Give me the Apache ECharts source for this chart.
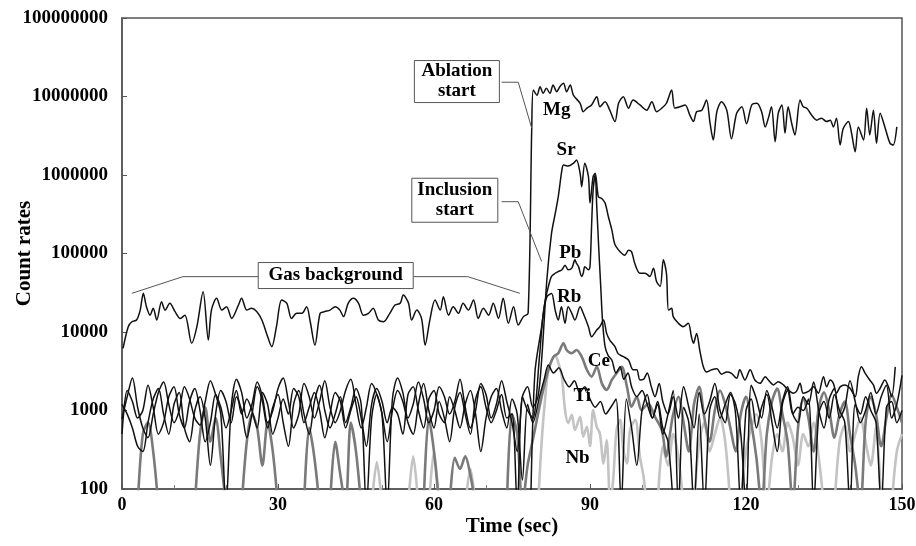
<!DOCTYPE html>
<html><head><meta charset="utf-8">
<script src="https://cdn.jsdelivr.net/npm/echarts@6/dist/echarts.min.js"></script>
<style>html,body{margin:0;padding:0;background:#fff}#c{width:916px;height:546px}</style>
</head><body><div id="c"></div>
<script>
// ---- data (time in s, count rates) ----
const xTicks = [0, 30, 60, 90, 120, 150];
const yTicks = [100, 1000, 10000, 100000, 1000000, 10000000, 100000000];

const mgBackground = [[0.2,6200],[1.2,11700],[1.9,13500],[2.8,14200],[3.5,19000],[4.1,31100],[4.7,21000],[5.4,16400],[6.0,20000],[6.7,14200],[7.6,24300],[8.3,19000],[9.2,23200],[10.2,18200],[11.2,14900],[12.1,16400],[13.4,7200],[14.4,11700],[15.6,32600],[16.6,7900],[17.2,19000],[18.2,26900],[19.2,19000],[20.1,21000],[21.1,14900],[22.4,22100],[23.0,26900],[24.0,19000],[24.9,20000],[25.9,18200],[26.9,14200],[27.8,9600],[28.8,6500],[29.7,11700],[30.7,25600],[31.7,23200],[32.6,14900],[33.6,17300],[34.6,17300],[35.5,21000],[36.2,13500],[37.1,6800],[38.1,17300],[39.0,18200],[40.0,19000],[41.0,21000],[41.9,19000],[42.6,15700],[43.5,23200],[44.5,26900],[45.5,23200],[46.4,16400],[47.4,17300],[48.3,20000],[49.3,14200],[50.3,13500],[51.5,17300],[52.5,22100],[53.5,23200],[54.1,29600],[55.1,23200],[55.7,14200],[56.7,19000],[57.6,14900],[58.3,6800],[59.2,14200],[60.2,25600],[61.2,19000],[61.8,28200],[62.8,16400],[63.7,21000],[64.7,17300],[65.6,23200],[66.6,19000],[67.6,25600],[68.5,14900],[69.5,20000],[70.5,16400],[71.4,23200],[72.4,14900],[73.3,26900],[74.3,12900],[75.3,21000],[76.2,12300],[77.2,15700],[78.1,17300]];
const mgSignal = [[78.8,4100000],[79.1,12100000],[79.8,10400000],[80.4,13300000],[81.0,11000000],[81.6,12700000],[82.3,11000000],[82.9,14000000],[83.6,11500000],[84.2,13300000],[84.9,14700000],[85.5,11500000],[86.2,14000000],[86.8,10400000],[88.1,8200000],[88.7,6400000],[89.4,7100000],[90.3,7800000],[91.3,9950000],[91.9,7400000],[92.9,8600000],[93.8,6700000],[94.8,4800000],[95.5,8200000],[96.4,9950000],[97.4,7100000],[98.3,9000000],[99.6,7800000],[100.9,6700000],[101.9,8600000],[102.8,6400000],[103.8,7100000],[104.7,8200000],[105.7,12100000],[106.3,7100000],[107.3,7400000],[108.3,7800000],[109.2,5800000],[109.9,4800000],[110.5,6400000],[111.5,6700000],[112.4,9000000],[113.1,4500000],[113.7,2800000],[114.4,6400000],[115.3,8600000],[116.3,6700000],[117.2,2900000],[118.2,6100000],[119.2,7400000],[120.1,4500000],[121.1,7800000],[122.1,8200000],[123.0,6400000],[123.7,4100000],[124.3,5300000],[124.9,7400000],[125.6,2660000],[126.2,6100000],[126.9,7800000],[127.5,3400000],[128.1,7400000],[128.8,4500000],[129.4,3240000],[130.4,9000000],[131.0,7400000],[131.7,7100000],[132.6,5800000],[133.6,5000000],[134.5,5300000],[135.5,4800000],[136.2,5000000],[136.8,4100000],[137.4,5300000],[138.1,2410000],[138.7,3900000],[139.7,4800000],[140.3,3400000],[141.0,1980000],[141.6,4100000],[142.6,2800000],[143.2,7100000],[143.8,3240000],[144.5,6700000],[145.1,2530000],[145.8,6100000],[146.7,4100000],[147.7,2530000],[148.3,2410000],[149.0,4100000]];

// one value per second from t = 0
const srBackground = [780,1500,2600,1100,600,450,900,1700,2300,1200, 700,1000,2000,1400,800,650,1300,2400,1600,900, 60,1100,2500,1700,800,1200,2300,1500,700,1000, 1900,2600,1300,600,900,2200,1500,800,1300,2400, 1100,700,1000,1800,2500,1200,600,1100,2200,1600, 900,60,1400,2600,1700,800,1200,2300,1400,700, 1000,2000,1500,900,1300,2500,1100,600,1000,2200, 1600,800,1200,2400,1300,700,300,1500,2000,1100];
const srSignal = [[80.0,1500],[80.7,4400],[81.7,46000],[82.6,180000],[83.3,320000],[83.9,530000],[84.6,1160000],[84.9,1340000],[85.8,1300000],[86.8,1410000],[87.4,1550000],[88.1,1050000],[88.4,710000],[89.0,1410000],[89.7,950000],[90.0,440000],[90.6,950000],[91.0,1050000],[91.6,530000],[92.2,505000],[92.9,440000],[93.5,300000],[94.2,200000],[94.8,130000],[95.8,105000],[96.7,95000],[97.4,110000],[98.0,105000],[98.6,75000],[99.6,56000],[100.6,56000],[101.5,51000],[102.2,65000],[102.8,44000],[103.5,38000],[104.1,83000],[104.7,56000],[105.1,19000],[105.7,20000],[106.0,15700],[107.0,12900],[107.9,11700],[108.9,12900],[109.5,8700],[109.9,7200],[110.5,9600],[111.1,5900],[111.8,3600],[112.4,3100],[113.4,3300],[114.4,3400],[115.3,2900],[116.3,3100],[117.2,2980],[118.2,2570],[118.8,3300],[119.8,2450],[120.8,3300],[121.7,2450],[122.7,2220],[123.7,2700],[124.3,2450],[125.3,2120],[126.2,2330],[127.2,2120],[128.1,1830],[129.1,1660],[129.7,1750],[130.4,2220],[131.0,1660],[132.0,1750],[133.0,2000],[133.9,1660],[134.9,2700],[135.5,2000],[136.2,2450],[136.8,2220],[137.4,1660],[138.1,2000],[139.0,2120],[140.0,1920],[141.0,1500],[141.6,2700],[142.2,3600],[142.9,3000],[143.8,2450],[144.5,2120],[145.1,1660],[145.8,1920],[146.7,2450],[147.4,2000],[148.0,1500],[148.7,3600]];

const pbSignal = [[78.6,60],[79.4,3000],[80.7,11700],[81.4,25500],[82.0,38000],[82.6,51000],[83.3,56000],[83.9,59000],[84.6,62000],[85.2,71000],[85.8,62000],[86.5,65000],[87.1,83000],[87.4,75000],[87.8,68000],[88.4,51000],[88.7,56000],[89.0,68000],[89.7,62000],[90.0,68000],[90.3,220000],[90.6,640000],[91.0,1000000],[91.3,395000],[91.7,111000],[92.1,34000],[92.4,14200],[92.9,6500],[93.5,5000],[94.2,4400],[95.0,3000],[95.8,3600],[96.5,2500],[97.3,3000],[98.0,2000],[99.0,1500],[100.0,1800],[101.0,1200],[102.0,800],[103.0,1300],[104.0,600],[105.0,400],[106.0,60]];

const rbBackground = [1200,900,600,350,300,700,1400,1900,900,500, 1200,1700,600,400,1000,1500,800,200,900,1800, 1300,700,1500,1000,450,900,2000,1300,600,1100, 1600,700,350,1200,1800,900,500,1300,2100,1000, 600,900,1500,700,1100,1900,1200,60,800,1600, 900,400,1000,1800,1300,700,500,1200,2200,1000, 600,1300,800,400,1100,1700,900,500,1400,2000, 1100,700,1000,1600,800,900,60,1500,1000,800];
const rbSignal = [[80.3,5000],[81.0,17000],[81.7,28000],[82.6,31000],[83.3,19000],[83.9,14200],[84.5,21000],[85.2,12900],[85.8,21000],[86.5,17300],[87.1,14200],[88.1,21000],[88.7,17300],[89.7,11700],[90.3,8700],[91.3,10600],[91.9,11700],[92.6,14200],[93.2,9600],[93.8,7900],[94.8,6500],[95.4,5300],[96.4,4850],[97.4,4400],[98.3,3300],[99.0,3300],[99.6,2450],[100.3,2500],[101.0,3000],[101.8,2000],[102.5,1500],[103.3,2200],[104.0,1300],[105.0,900]];
// one value per second from t = 106
const rbTail = [1500,800,2000,1100,600,1700,900,1300,2200,1000, 700,1600,1200,500,60,2100,1400,800,1800,1100, 600,1300,2000,900,700,1500,1200,2300,1000,600, 1400,1900,800,1100,2400,1300,700,1000,1700,900, 1500,2100,800,1200,2800];

const tiBackground = [500,1800,1300,800,1000,2100,1100,500,700,1500, 2000,900,600,1300,1900,1000,400,700,1600,1100, 600,1000,1800,900,1400,1000,600,1700,1200,500, 800,1400,900,1900,1500,700,1100,1700,1000,450, 900,1700,1300,600,1000,1500,800,350,1200,1900, 1300,700,1100,900,500,1600,2000,1000,600,1400, 1800,900,700,1500,1000,600,1200,1800,900,300, 800,1500,1900,1000,600,1400,900,130,1200,700];
const tiSignal = [[80.3,1500],[81.2,2500],[82.0,3800],[83.0,3000],[84.0,3500],[85.0,2500],[86.0,2000],[87.0,2400],[88.0,1700],[89.0,2000],[90.0,1400],[91.0,1100],[92.0,1300],[93.0,900],[94.0,1100],[95.0,1400]];
// one value per second from t = 96
const tiTail = [60,1400,600,200,1000,1600,800,1200,500,900, 1800,60,1100,700,60,900,60,1000,1500,800, 1200,1700,900,60,1000,1400,600,1100,1600,700, 300,1200,1800,900,1100,1000,1400,60,900,1300, 800,1600,1000,700,60,1200,900,1500,1000,700, 60,1100,1300,700,1000];

const ceBackground = [null,null,null,60,500,700,300,60,null,null, null,null,null,null,60,500,1100,400,800,250, 60,null,null,60,400,900,600,200,700,300, 60,null,null,null,null,60,600,250,60,null, 60,400,150,60,700,300,60,null,null,null, null,null,null,null,null,null,null,null,60,800, 300,60,null,60,250,180,260,150,60,null, null,null,null,null,60,900,500,60,200,420];
const ceSignal = [[80.7,1500],[82.0,3300],[83.0,4850],[83.9,5350],[84.9,7200],[85.5,5900],[86.5,5350],[87.4,5900],[88.4,4850],[89.4,3300],[90.3,2700],[91.3,3600],[92.3,2200],[93.2,1830],[94.2,2450],[95.1,2980],[96.1,3600],[97.1,2010],[98.0,1120],[99.0,1500],[99.9,1010],[101.2,1230],[102.5,830],[103.8,565],[104.7,258],[105.3,465]];
// one value per second from t = 106
const ceTail = [900,1500,700,300,1200,2000,800,400,1000,1800, 1200,600,300,900,1500,700,250,60,500,1300, 1900,900,400,60,600,1400,800,300,1100,1700, 1000,450,900,1300,500,200,60,700,1500,900, 350,800,1600,1100,700];

const nbBackground = [null,null,null,null,null,null,null,null,null,null, null,null,null,null,null,null,null,null,null,null, null,null,null,null,null,null,null,null,null,null, null,null,null,null,null,null,null,null,null,null, null,null,null,null,null,null,null,null,60,220, 60,null,null,null,null,60,260,60,null,60, 300,60,null,null,null,null,60,180,60,null, null,null,null,null,null,null,null,null,null,null];
const nbSignal = [[80.0,60],[80.7,400],[81.4,1500],[82.0,3300],[82.7,4400],[83.3,5000],[84.0,3900],[84.6,2700],[85.2,1010],[85.8,690],[86.5,880],[87.1,565],[88.1,830],[88.7,465],[89.4,620],[90.0,350],[90.6,1010],[91.3,620],[91.9,510],[92.6,212],[93.2,420],[93.9,60],[94.5,144],[95.1,565],[95.8,760],[96.4,314],[97.1,212],[97.7,565],[98.7,760],[99.6,258],[100.3,144],[100.9,60]];
// one value per second from t = 101
const nbTail = [null,null,60,350,200,500,250,60,null,60, 400,700,300,500,800,400,60,null,60,300, 600,900,400,60,250,500,300,700,450,200, 500,350,700,250,60,null,60,400,650,300, 500,800,400,200,600,60,null,60,300,500];

// element labels placed at (time, count) positions
const elementNames = ['Mg', 'Sr', 'Pb', 'Rb', 'Ce', 'Ti', 'Nb'];
const elementLabelAt = [[83.6,6.7e6],[85.4,2.08e6],[86.2,1.0e5],[86.0,2.76e4],[91.7,4200],[88.5,1520],[87.6,248]];

// ---- build ----
const SERIF = '"Liberation Serif", "Times New Roman", serif';
const stepSeries = (t0, vals) => vals.map((v, i) => [t0 + i, v]);

const mgData = mgBackground.concat(mgSignal);
const srData = stepSeries(0, srBackground).concat(srSignal);
const pbData = pbSignal;
const rbData = stepSeries(0, rbBackground).concat(rbSignal, stepSeries(106, rbTail));
const tiData = stepSeries(0, tiBackground).concat(tiSignal, stepSeries(96, tiTail));
const ceData = stepSeries(0, ceBackground).concat(ceSignal, stepSeries(106, ceTail));
const nbData = stepSeries(0, nbBackground).concat(nbSignal, stepSeries(101, nbTail));

function line(name, data, color, width) {
  return { name, type: 'line', data, showSymbol: false, smooth: 0.3, connectNulls: false,
    lineStyle: { color, width }, itemStyle: { color }, silent: true, clip: true };
}

const chart = echarts.init(document.getElementById('c'), null, { renderer: 'canvas' });
chart.setOption({
  animation: false,
  backgroundColor: '#fff',
  grid: { left: 122, right: 14, top: 18, bottom: 57, containLabel: false, outerBoundsMode: 'none',
    show: true, borderColor: '#555', borderWidth: 1.5, backgroundColor: 'transparent' },
  xAxis: {
    type: 'value', min: xTicks[0], max: xTicks[xTicks.length - 1], interval: 30,
    name: 'Time (sec)', nameLocation: 'middle', nameGap: 27, nameMoveOverlap: false,
    nameTextStyle: { fontFamily: SERIF, fontWeight: 'bold', fontSize: 21, color: '#000' },
    axisLine: { lineStyle: { color: '#555', width: 1.5 } },
    axisTick: { inside: true, length: 5, lineStyle: { color: '#555' } },
    minorTick: { show: true, splitNumber: 3, length: 4, lineStyle: { color: '#777' } },
    splitLine: { show: false },
    axisLabel: { margin: 7, fontFamily: SERIF, fontWeight: 'bold', fontSize: 18, color: '#000' }
  },
  yAxis: {
    type: 'log', logBase: 10, min: yTicks[0], max: yTicks[yTicks.length - 1],
    name: 'Count rates', nameLocation: 'middle', nameGap: 87, nameMoveOverlap: false,
    nameTextStyle: { fontFamily: SERIF, fontWeight: 'bold', fontSize: 21, color: '#000' },
    axisLine: { show: true, lineStyle: { color: '#555', width: 1.5 } },
    axisTick: { show: true, inside: true, length: 5, lineStyle: { color: '#555' } },
    splitLine: { show: false },
    axisLabel: { margin: 14, fontFamily: SERIF, fontWeight: 'bold', fontSize: 19, color: '#000',
      formatter: v => String(Math.round(v)) }
  },
  series: [
    line('Nb', nbData, '#c3c3c3', 2.6),
    line('Ce', ceData, '#7a7a7a', 2.6),
    line('Ti', tiData, '#111', 1.5),
    line('Rb', rbData, '#111', 1.5),
    line('Pb', pbData, '#111', 1.5),
    line('Sr', srData, '#111', 1.5),
    line('Mg', mgData, '#111', 1.5)
  ]
});

// ---- annotations (anchored in data coordinates) ----
const toPx = p => chart.convertToPixel({ gridIndex: 0 }, p);
const boxFont = { fontFamily: SERIF, fontWeight: 'bold', fontSize: 19, fill: '#000' };
const notes = [
  { text: 'Gas background', at: [41.1, 52400], w: 155, h: 26,
    leaders: [[[26.2, 50700], [11.7, 50700], [1.9, 31100]], [[56.0, 50700], [66.5, 50700], [76.5, 31100]]] },
  { text: 'Ablation\nstart', at: [64.4, 1.55e7], w: 85, h: 42,
    leaders: [[[73.0, 1.52e7], [76.2, 1.52e7], [78.8, 3.94e6]]] },
  { text: 'Inclusion\nstart', at: [64.0, 4.77e5], w: 86, h: 44,
    leaders: [[[73.0, 4.57e5], [76.2, 4.57e5], [80.7, 7.9e4]]] }
];
const graphics = [];
notes.forEach(n => {
  n.leaders.forEach(pts => graphics.push({ type: 'polyline', z: 100, silent: true,
    shape: { points: pts.map(toPx) }, style: { stroke: '#555', lineWidth: 1, fill: null } }));
  const c = toPx(n.at);
  graphics.push({ type: 'rect', z: 101, silent: true,
    shape: { x: c[0] - n.w / 2, y: c[1] - n.h / 2, width: n.w, height: n.h },
    style: { fill: '#fff', stroke: '#555', lineWidth: 1 } });
  graphics.push({ type: 'text', z: 102, silent: true, x: c[0], y: c[1],
    style: Object.assign({ text: n.text, align: 'center', verticalAlign: 'middle', lineHeight: 20 }, boxFont) });
});
elementNames.forEach((nm, i) => {
  const c = toPx(elementLabelAt[i]);
  graphics.push({ type: 'text', z: 103, silent: true, x: c[0], y: c[1],
    style: Object.assign({ text: nm, align: 'center', verticalAlign: 'middle' }, boxFont) });
});
chart.setOption({ graphic: graphics });
</script></body></html>
